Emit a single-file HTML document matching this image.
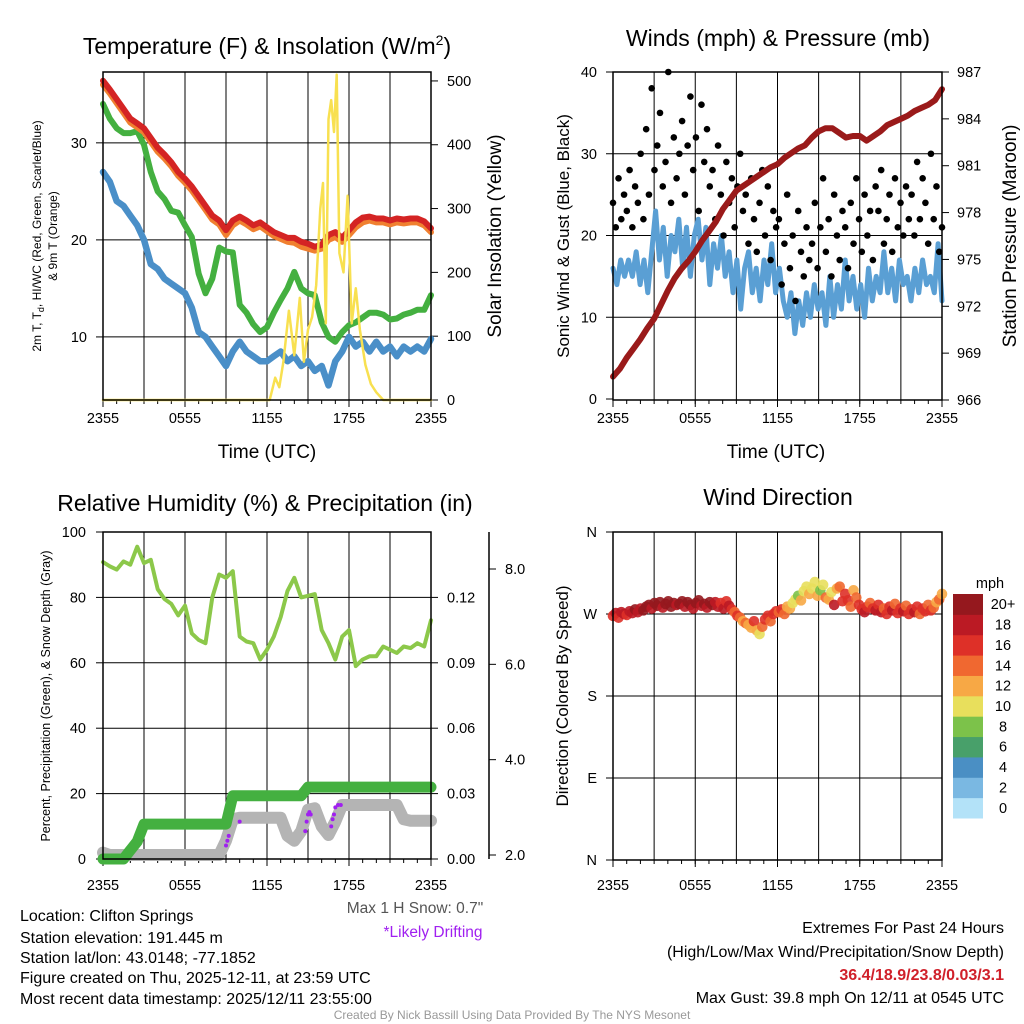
<!DOCTYPE html>
<html><head><meta charset="utf-8"><style>
body{margin:0;background:#fff}
svg{display:block;font-family:"Liberation Sans",Arial,sans-serif}
</style></head><body>
<svg id="c" width="1024" height="1024" viewBox="0 0 1024 1024" xmlns="http://www.w3.org/2000/svg">
<rect width="1024" height="1024" fill="#fff"/>
<text x="267" y="54" font-size="23" text-anchor="middle">Temperature (F) &amp; Insolation (W/m<tspan font-size="14" dy="-9">2</tspan><tspan dy="9">)</tspan></text>
<text x="778" y="46" font-size="23" text-anchor="middle">Winds (mph) &amp; Pressure (mb)</text>
<text x="265" y="511" font-size="23" text-anchor="middle">Relative Humidity (%) &amp; Precipitation (in)</text>
<text x="778" y="505" font-size="23" text-anchor="middle">Wind Direction</text>
<text transform="translate(41,236) rotate(-90)" font-size="12" text-anchor="middle">2m T, T<tspan font-size="9" dy="3">d</tspan><tspan dy="-3">, HI/WC (Red, Green, Scarlet/Blue)</tspan></text>
<text transform="translate(57,236) rotate(-90)" font-size="12" text-anchor="middle">&amp; 9m T (Orange)</text>
<text transform="translate(501,236) rotate(-90)" font-size="19" text-anchor="middle">Solar Insolation (Yellow)</text>
<text x="267" y="458" font-size="19" text-anchor="middle">Time (UTC)</text>
<text x="776" y="458" font-size="19" text-anchor="middle">Time (UTC)</text>
<text transform="translate(569,236) rotate(-90)" font-size="17" text-anchor="middle">Sonic Wind &amp; Gust (Blue, Black)</text>
<text transform="translate(1016,236) rotate(-90)" font-size="19" text-anchor="middle">Station Pressure (Maroon)</text>
<text transform="translate(50,696) rotate(-90)" font-size="12.5" text-anchor="middle">Percent, Precipitation (Green), &amp; Snow Depth (Gray)</text>
<text transform="translate(568,696) rotate(-90)" font-size="17" text-anchor="middle">Direction (Colored By Speed)</text>
<g font-size="16">
<text x="20" y="921">Location: Clifton Springs</text>
<text x="20" y="943">Station elevation: 191.445 m</text>
<text x="20" y="963">Station lat/lon: 43.0148; -77.1852</text>
<text x="20" y="983">Figure created on Thu, 2025-12-11, at 23:59 UTC</text>
<text x="20" y="1004">Most recent data timestamp: 2025/12/11 23:55:00</text>
</g>
<text x="415" y="913" font-size="15.5" fill="#555" text-anchor="middle">Max 1 H Snow: 0.7"</text>
<text x="433" y="937" font-size="15.5" fill="#a020f0" text-anchor="middle">*Likely Drifting</text>
<g font-size="16" text-anchor="end">
<text x="1004" y="933">Extremes For Past 24 Hours</text>
<text x="1004" y="957">(High/Low/Max Wind/Precipitation/Snow Depth)</text>
<text x="1004" y="980" fill="#d0202a" font-weight="bold">36.4/18.9/23.8/0.03/3.1</text>
<text x="1004" y="1003">Max Gust: 39.8 mph On 12/11 at 0545 UTC</text>
</g>
<text x="512" y="1019" font-size="12" fill="#999" text-anchor="middle">Created By Nick Bassill Using Data Provided By The NYS Mesonet</text>
</svg>
<script>
// ---- data ----
const xTickLabels=["2355","0555","1155","1755","2355"];
const tempTicks=[10,20,30];
const solarTicks=[0,100,200,300,400,500];
const windTicks=[0,10,20,30,40];
const presTicks=[966,969,972,975,978,981,984,987];
const rhTicks=[0,20,40,60,80,100];
const precipTicks=[0.00,0.03,0.06,0.09,0.12];
const snowTicks=[2.0,4.0,6.0,8.0];
const dirTicks=["N","E","S","W","N"];
const speedBinLabels=["0","2","4","6","8","10","12","14","16","18","20+"];
const temp2m=[36.4,35.5,34.5,33.5,32.5,32,31.5,30.5,29.5,28.8,28,27,26.3,25.5,24.5,23.5,22.5,22,21,22,22.4,22,21.5,21.8,21.3,20.8,20.5,20.2,20.2,19.8,19.6,19.3,19.5,20.5,20.8,20.2,21,21.8,22.3,22.4,22.2,22.2,22,22.2,22.1,22.2,22.2,21.9,21.2];
const temp9m=[36,35.1,34.1,33.1,32.1,31.6,31.1,30.1,29.1,28.4,27.6,26.6,25.9,25.1,24.1,23.1,22.1,21.6,20.5,21.5,22,21.6,21.1,21.4,20.9,20.4,20.1,19.8,19.7,19.3,19.1,18.9,19.1,20,20.3,19.8,20.5,21.3,21.8,22,21.8,21.8,21.6,21.8,21.7,21.8,21.8,21.5,20.8];
const dewpoint=[34,32.5,31.5,31,31,31.2,29.8,27,25,24.2,23,22.8,21.5,20.3,16.5,14.5,16,19.2,18.8,18.7,13.3,12.5,11.3,10.5,11,12.5,13.8,15,16.7,15,14.5,14.3,11.5,10,9.5,10.5,11.2,11.5,12,12.5,12.5,12.3,11.8,11.9,12.3,12.5,12.8,12.8,14.3];
const windChill=[27,26,24,23.5,22.5,21.5,20,17.5,17,16,15.5,15,14.5,13,10.5,10,9,8,7,8.5,9.5,8.5,8,7.5,7.5,8,8.5,7.5,8,7,7.5,6.5,7,5,7.5,8.5,10,9,9.5,8.5,9.5,8.5,9,8,9,8.5,9,8.5,9.8];
const solarTimes=[0,12.2,12.6,12.9,13.2,13.6,14.0,14.4,14.7,15.0,15.3,15.6,15.9,16.1,16.3,16.5,16.7,16.9,17.1,17.3,17.6,17.9,18.2,18.5,18.8,19.2,19.6,20.0,20.5,24];
const solar=[0,0,35,20,60,140,70,160,60,110,130,180,300,340,120,440,470,420,510,230,200,320,120,175,110,55,25,12,0,0];
const pressure=[967.5,968,968.7,969.3,969.9,970.6,971.2,972.1,973,973.8,974.4,974.9,975.5,976.2,976.8,977.4,978.2,978.8,979.4,979.7,980,980.3,980.6,980.9,981.1,981.5,981.8,982.1,982.3,982.8,983.2,983.4,983.4,983.1,982.8,982.9,982.9,982.6,982.9,983.2,983.6,983.8,984,984.2,984.5,984.7,984.9,985.2,985.9];
const windSpeed=[16,14,17,15,17,15,18,14,17,13,18,23,17,21,15,20,18,22,16,21,15,20,22,17,21,14,19,16,20,15,18,13,17,11,16,18,13,16,12,17,14,19,13,16,12,10,13,8,12,9,13,10,14,11,13,9,15,10,14,11,17,12,15,11,14,10,16,12,15,13,18,13,16,12,17,14,15,12,16,13,17,14,15,13,19,12];
const windGust=[24,21,27,22,25,23,28,21,26,24,30,22,33,25,38,28,31,35,26,29,40,24,32,27,30,34,25,31,37,28,32,23,36,29,33,26,28,22,31,25,20,29,24,27,21,26,30,23,25,19,27,22,18,24,28,20,26,17,23,21,22,14,19,25,16,20,12,23,18,15,21,17,19,24,16,21,27,18,22,15,25,20,17,23,21,16,24,19,27,22,18,25,20,23,17,26,23,28,19,22,25,18,27,21,24,20,26,22,25,20,29,22,27,24,19,30,22,26,18,21];
const relHum=[90.8,89.5,88.5,91,90,95.5,90.5,91.5,82.5,79.5,78,74.5,77.5,69,67,66,80,87,86,88,68,66.5,66,61,64,68,74,82,86,80,80.5,81,70,66,61,68,70,59,61,62,62,65,64,63,65,64.5,66,65,73];
const precip=[0,0,0,0,0.004,0.008,0.016,0.016,0.016,0.016,0.016,0.016,0.016,0.016,0.016,0.016,0.016,0.016,0.016,0.029,0.029,0.029,0.029,0.029,0.029,0.029,0.029,0.029,0.029,0.029,0.033,0.033,0.033,0.033,0.033,0.033,0.033,0.033,0.033,0.033,0.033,0.033,0.033,0.033,0.033,0.033,0.033,0.033,0.033];
const snowDepth=[2.05,2.0,2.0,2.0,2.0,2.0,2.0,2.0,2.0,2.0,2.0,2.0,2.0,2.0,2.0,2.0,2.0,2.0,2.3,2.75,2.78,2.78,2.78,2.78,2.78,2.78,2.78,2.4,2.3,2.5,2.95,2.98,2.6,2.42,2.7,3.05,3.05,3.05,3.05,3.05,3.05,3.05,3.05,3.05,2.75,2.72,2.72,2.72,2.72];
const driftTimes=[9.0,9.1,9.2,10.0,14.8,14.9,15.0,15.1,15.2,16.7,16.8,16.9,17.0,17.2,17.4];
const driftDepth=[2.2,2.3,2.4,2.7,2.5,2.7,2.85,2.9,2.85,2.6,2.75,2.85,3.0,3.05,3.05];
const windDir=[268,271,266,272,270,269,273,271,275,272,276,274,278,280,276,282,279,283,277,281,284,278,282,280,281,284,278,283,280,276,282,285,279,281,277,283,280,283,278,282,276,284,279,275,272,268,266,262,260,258,255,262,252,248,256,264,268,262,270,273,272,275,270,278,276,282,286,290,285,295,300,292,298,305,290,296,302,288,286,294,280,298,300,284,292,285,278,296,288,280,275,272,278,282,276,274,280,272,276,270,278,274,281,271,276,273,279,270,275,272,278,270,276,273,280,274,277,283,286,292];
const dirSpeed=[17,18,16,19,18,17,19,18,20,19,18,20,20,21,19,22,20,21,19,20,22,20,21,19,20,22,19,21,20,18,22,21,19,20,18,21,20,18,19,17,18,16,18,17,15,16,14,13,14,12,13,16,12,11,14,16,17,15,16,17,15,16,14,13,12,11,10,9,12,10,11,13,11,10,12,9,11,14,13,10,18,12,15,17,16,17,15,12,14,16,17,18,16,15,17,18,17,18,15,17,16,18,14,17,16,18,15,17,16,18,17,15,17,16,14,17,15,13,14,12];
const speedColors=["#b3e2f8","#7ab8e2","#4a8fc4","#48a06a","#7cc24a","#e8df5c","#f7a845","#f06830","#de3028","#bb1a24","#95181e"];

// ---- helpers ----
const NS="http://www.w3.org/2000/svg";
const svg=document.getElementById('c');
function mk(tag,attrs,parent){const e=document.createElementNS(NS,tag);for(const k in attrs)e.setAttribute(k,attrs[k]);(parent||svg).appendChild(e);return e;}
function lin(d0,d1,r0,r1){return v=>r0+(v-d0)*(r1-r0)/(d1-d0);}
function idxT(arr,i){return i*24/(arr.length-1);}
function line(xs,ys,xf,yf,color,w,name,extra){
  const pts=xs.map((t,i)=>xf(t).toFixed(1)+","+yf(ys[i]).toFixed(1)).join(" ");
  const p=mk('polyline',Object.assign({points:pts,fill:"none",stroke:color,"stroke-width":w,"stroke-linejoin":"round","stroke-linecap":"round"},extra||{}));
  
  
  return p;
}
function frame(x0,y0,x1,y1,name){
  const r=mk('rect',{x:x0,y:y0,width:x1-x0,height:y1-y0,fill:"none",stroke:"#000","stroke-width":1.5});
  
  
}
function xAxis(x0,x1,y0,y1,labelY,name){
  const g=mk('g',{});
  
  
  for(let h=3;h<24;h+=3){const x=x0+h/24*(x1-x0);mk('line',{x1:x,x2:x,y1:y0,y2:y1,stroke:"#000","stroke-width":1},g);}
  for(let h=1;h<24;h++){const x=x0+h/24*(x1-x0);mk('line',{x1:x,x2:x,y1:y1,y2:y1+4,stroke:"#000","stroke-width":1},g);}
  xTickLabels.forEach((l,i)=>{const x=x0+i*(x1-x0)/4;const t=mk('text',{x:x,y:labelY,"font-size":14.5,"text-anchor":"middle"},g);t.textContent=l;mk('line',{x1:x,x2:x,y1:y1,y2:y1+7,stroke:"#000"},g);});
}
function hGrid(vals,yf,x0,x1,name){
  const g=mk('g',{});
  vals.forEach(v=>mk('line',{x1:x0,x2:x1,y1:yf(v),y2:yf(v),stroke:"#000","stroke-width":1},g));
}
function yLabels(vals,texts,yf,x,anchor,tickX,dir,name){
  const g=mk('g',{});
  vals.forEach((v,i)=>{const y=yf(v);const t=mk('text',{x:x,y:y+5,"font-size":14.5,"text-anchor":anchor},g);t.textContent=texts[i];
    mk('line',{x1:tickX,x2:tickX+dir*7,y1:y,y2:y,stroke:"#000"},g);});
}

// ---- Panel 1 ----
{
const X0=103,X1=431,Y0=72,Y1=400;
const xf=lin(0,24,X0,X1), yf=lin(3.5,37.3,Y1,Y0), sf=lin(0,514,Y1,Y0);
hGrid(tempTicks,yf,X0,X1,"temp-gridlines");
xAxis(X0,X1,Y0,Y1,423,"temp-x-axis");
yLabels(tempTicks,tempTicks.map(String),yf,87,"end",X0,-1,"temp-y-axis");
yLabels(solarTicks,solarTicks.map(String),sf,447,"start",X1,1,"solar-y-axis");
line(windChill.map((v,i)=>idxT(windChill,i)),windChill,xf,yf,"#4a8fc8",6.5,"windchill-line");
line(dewpoint.map((v,i)=>idxT(dewpoint,i)),dewpoint,xf,yf,"#44b040",6,"dewpoint-line");
line(temp9m.map((v,i)=>idxT(temp9m,i)),temp9m,xf,yf,"#f08030",6,"temp-9m-line");
line(temp2m.map((v,i)=>idxT(temp2m,i)),temp2m,xf,yf,"#d42424",6,"temp-2m-line");
line(solarTimes,solar,xf,sf,"#f8e050",2.5,"solar-line");
frame(X0,Y0,X1,Y1,"temp-plot-frame");
}
// ---- Panel 2 ----
{
const X0=613,X1=942,Y0=72,Y1=400;
const xf=lin(0,24,X0,X1), yf=lin(0,40,399,72), pf=lin(966,987,Y1,Y0);
hGrid([10,20,30],yf,X0,X1,"wind-gridlines");
xAxis(X0,X1,Y0,Y1,423,"wind-x-axis");
yLabels(windTicks,windTicks.map(String),yf,597,"end",X0,-1,"wind-y-axis");
yLabels(presTicks,presTicks.map(String),pf,957,"start",X1,1,"pressure-y-axis");
line(windSpeed.map((v,i)=>idxT(windSpeed,i)),windSpeed,xf,yf,"#5a9fd4",5,"wind-speed-line");
const g=mk('g',{});
windGust.forEach((v,i)=>{const c=mk('circle',{cx:xf(idxT(windGust,i)),cy:yf(v),r:3.3,fill:"#000"},g);

});
line(pressure.map((v,i)=>idxT(pressure,i)),pressure,xf,pf,"#9a1a1a",6,"pressure-line");
frame(X0,Y0,X1,Y1,"wind-plot-frame");
}
// ---- Panel 3 ----
{
const X0=103,X1=431,Y0=532,Y1=859;
const xf=lin(0,24,X0,X1), yf=lin(0,100,Y1,Y0), pf=lin(0,0.03,Y1,Y1-65.4), df=lin(2,8,855,569);
hGrid([20,40,60,80],yf,X0,X1,"rh-gridlines");
xAxis(X0,X1,Y0,Y1,890,"rh-x-axis");
yLabels(rhTicks,rhTicks.map(String),yf,86,"end",X0,-1,"rh-y-axis");
yLabels(precipTicks,precipTicks.map(v=>v.toFixed(2)),pf,447,"start",X1,1,"precip-y-axis");
mk('line',{x1:489,x2:489,y1:532,y2:859,stroke:"#000","stroke-width":1.5});
yLabels(snowTicks,snowTicks.map(v=>v.toFixed(1)),df,505,"start",489,1,"snow-y-axis");
line(snowDepth.map((v,i)=>idxT(snowDepth,i)),snowDepth,xf,df,"#b4b4b4",12,"snow-depth-line");
line(precip.map((v,i)=>idxT(precip,i)),precip,xf,pf,"#44b040",11,"precip-line");
const g=mk('g',{});
driftTimes.forEach((t,i)=>{const c=mk('circle',{cx:xf(t),cy:df(driftDepth[i]),r:2,fill:"#a020f0"},g);

});
line(relHum.map((v,i)=>idxT(relHum,i)),relHum,xf,yf,"#8cc84a",4,"rh-line");
frame(X0,Y0,X1,Y1,"rh-plot-frame");
}
// ---- Panel 4 ----
{
const X0=613,X1=942,Y0=532,Y1=860;
const xf=lin(0,24,X0,X1), yf=lin(0,360,Y1,Y0);
hGrid([90,180,270],yf,X0,X1,"direction-gridlines");
xAxis(X0,X1,Y0,Y1,890,"direction-x-axis");
yLabels([0,90,180,270,360],dirTicks,yf,597,"end",X0,-1,"direction-y-axis");
const g=mk('g',{});
windDir.forEach((d,i)=>{const s=dirSpeed[i];const b=Math.min(10,Math.floor(s/2));
const c=mk('circle',{cx:xf(idxT(windDir,i)),cy:yf(d),r:5.3,fill:speedColors[b],"fill-opacity":0.9},g);

});
frame(X0,Y0,X1,Y1,"direction-plot-frame");
// colorbar
const cb=mk('g',{});
const t0=mk('text',{x:990,y:588,"font-size":14.5,"text-anchor":"middle"},cb);t0.textContent="mph";
const bh=224/11;
speedBinLabels.forEach((l,i)=>{const k=10-i;const y=594+k*bh;
const r=mk('rect',{x:953,y:y,width:30,height:bh+0.5,fill:speedColors[i]},cb);


const t=mk('text',{x:1003,y:y+bh/2+5,"font-size":14.5,"text-anchor":"middle"},cb);t.textContent=l;});
}
</script>
</body></html>
